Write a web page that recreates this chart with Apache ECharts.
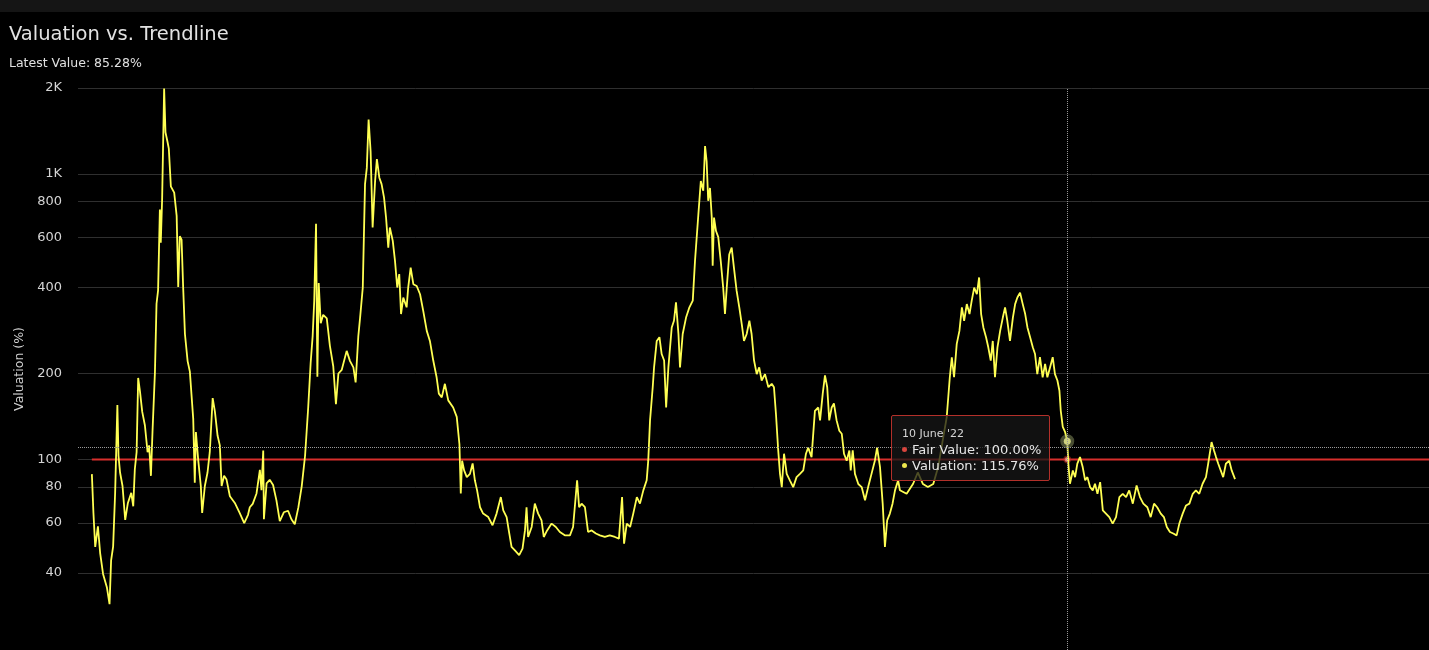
<!DOCTYPE html>
<html>
<head>
<meta charset="utf-8">
<script src="https://cdn.jsdelivr.net/npm/echarts@6/dist/echarts.min.js"></script>
<style>
html,body{margin:0;padding:0;background:#000;overflow:hidden;}
#chart{width:1429px;height:650px;}
</style>
</head>
<body>
<div id="chart"></div>
<script>
// ---------------- data ----------------
const chartTitle = 'Valuation vs. Trendline';
const yAxisName = 'Valuation (%)';
const yTickValues = [40, 60, 80, 100, 200, 400, 600, 800, 1000, 2000];
const yTickLabels = ['40', '60', '80', '100', '200', '400', '600', '800', '1K', '2K'];
const yRange = [21.5, 2000];
const xRange = ['2010-05-02', '2026-11-13'];

const valuationDates = [
'2010-07-03','2010-07-10','2010-07-18','2010-07-30','2010-08-09','2010-08-22','2010-09-08','2010-09-20','2010-09-27','2010-10-06',
'2010-10-15','2010-10-25','2010-10-30','2010-11-06','2010-11-17','2010-11-29','2010-12-11','2010-12-26',
'2011-01-04','2011-01-11','2011-01-19','2011-01-26','2011-02-03','2011-02-13','2011-02-25','2011-03-09','2011-03-16','2011-03-24',
'2011-03-31','2011-04-11','2011-04-18','2011-04-25','2011-05-03','2011-05-07','2011-05-13','2011-05-22','2011-05-28','2011-06-06',
'2011-06-12','2011-06-21','2011-07-06','2011-07-17','2011-07-24','2011-07-31','2011-08-08','2011-08-15','2011-08-23','2011-09-04',
'2011-09-14','2011-09-29','2011-10-06','2011-10-11','2011-10-21','2011-11-02','2011-11-08','2011-11-20','2011-12-02','2011-12-12','2011-12-25',
'2012-01-04','2012-01-16','2012-01-26','2012-02-03','2012-02-14','2012-02-25','2012-03-11','2012-04-02','2012-04-24','2012-05-14',
'2012-05-31','2012-06-08','2012-06-21','2012-07-08','2012-07-23','2012-07-30','2012-08-07','2012-08-10','2012-08-22','2012-09-05',
'2012-09-20','2012-10-05','2012-10-20','2012-11-07','2012-11-26','2012-12-11','2012-12-26',
'2013-01-11','2013-01-26','2013-02-10','2013-02-24','2013-03-07','2013-03-16','2013-03-23','2013-03-31','2013-04-06','2013-04-12',
'2013-04-21','2013-05-02','2013-05-18','2013-06-01','2013-06-16','2013-06-28','2013-07-09','2013-07-24','2013-08-15','2013-08-30',
'2013-09-14','2013-09-24','2013-10-06','2013-10-14','2013-10-26','2013-11-05','2013-11-13','2013-11-21','2013-11-30','2013-12-09',
'2013-12-20','2013-12-28',
'2014-01-08','2014-01-18','2014-01-29','2014-02-07','2014-02-17','2014-02-24','2014-03-09','2014-03-19','2014-03-29','2014-04-07',
'2014-04-15','2014-04-25','2014-05-10','2014-05-17','2014-05-28','2014-06-09','2014-06-24','2014-07-09','2014-07-23','2014-08-08',
'2014-08-22','2014-09-06','2014-09-21','2014-10-01','2014-10-14','2014-10-28','2014-11-12','2014-12-04','2014-12-20',
'2015-01-01','2015-01-07','2015-01-13','2015-01-22','2015-02-03','2015-02-17','2015-03-01','2015-03-11','2015-03-21','2015-04-03',
'2015-04-17','2015-05-10','2015-05-29','2015-06-16','2015-07-05','2015-07-16','2015-07-31','2015-08-12','2015-08-22','2015-09-06',
'2015-09-25','2015-10-10','2015-10-21','2015-10-28','2015-11-04','2015-11-20','2015-12-04','2015-12-19',
'2016-01-03','2016-01-13','2016-01-28','2016-02-17','2016-03-07','2016-03-25','2016-04-16','2016-05-09','2016-05-23','2016-06-10',
'2016-06-19','2016-06-30','2016-07-15','2016-07-29','2016-08-14','2016-09-02','2016-09-20','2016-10-12','2016-11-03','2016-11-26',
'2016-12-14','2016-12-28',
'2017-01-06','2017-01-18','2017-02-02','2017-02-16','2017-03-04','2017-03-18','2017-04-02','2017-04-17','2017-04-24','2017-05-02',
'2017-05-14','2017-05-20','2017-06-01','2017-06-13','2017-06-23','2017-07-04','2017-07-13','2017-07-23','2017-08-07','2017-08-17',
'2017-08-26','2017-09-06','2017-09-13','2017-09-25','2017-10-10','2017-10-25','2017-11-09','2017-11-19','2017-12-04','2017-12-15','2017-12-26',
'2018-01-03','2018-01-10','2018-01-17','2018-01-25','2018-02-02','2018-02-06','2018-02-12','2018-02-21','2018-03-03','2018-03-14',
'2018-03-25','2018-04-02','2018-04-10','2018-04-21','2018-05-02','2018-05-12','2018-05-24','2018-06-05','2018-06-16','2018-06-26',
'2018-07-08','2018-07-20','2018-07-30','2018-08-10','2018-08-22','2018-09-02','2018-09-13','2018-09-28','2018-10-13','2018-10-28',
'2018-11-07','2018-11-16','2018-11-26','2018-12-04','2018-12-12','2018-12-22',
'2019-01-03','2019-01-17','2019-02-01','2019-02-16','2019-03-03','2019-03-18','2019-03-30','2019-04-09','2019-04-24','2019-05-09',
'2019-05-24','2019-06-01','2019-06-13','2019-06-23','2019-07-03','2019-07-12','2019-07-23','2019-08-02','2019-08-14','2019-08-26',
'2019-09-06','2019-09-16','2019-09-28','2019-10-10','2019-10-16','2019-10-25','2019-11-04','2019-11-19','2019-12-04','2019-12-19',
'2020-01-02','2020-01-17','2020-02-01','2020-02-11','2020-02-24','2020-03-07','2020-03-17','2020-03-27','2020-04-08','2020-04-20',
'2020-05-01','2020-05-15','2020-05-23','2020-06-22','2020-07-21','2020-08-11','2020-09-03','2020-09-25','2020-10-19','2020-11-10',
'2020-12-03','2020-12-18',
'2021-01-01','2021-01-10','2021-01-20','2021-02-01','2021-02-13','2021-02-24','2021-03-06','2021-03-18','2021-03-30','2021-04-09',
'2021-04-20','2021-05-02','2021-05-12','2021-05-21','2021-05-31','2021-06-12','2021-06-22','2021-07-03','2021-07-12','2021-07-22',
'2021-08-02','2021-08-14','2021-08-26','2021-09-05','2021-09-15','2021-09-27','2021-10-10','2021-10-20','2021-10-30','2021-11-11',
'2021-11-23','2021-12-04','2021-12-14','2021-12-26',
'2022-01-07','2022-01-17','2022-01-27','2022-02-08','2022-02-20','2022-03-03','2022-03-13','2022-03-25','2022-04-06','2022-04-16',
'2022-04-27','2022-05-06','2022-05-12','2022-05-21','2022-05-31','2022-06-10','2022-06-15','2022-06-22','2022-07-05','2022-07-15',
'2022-07-25','2022-08-06','2022-08-18','2022-08-29','2022-09-08','2022-09-20','2022-10-02','2022-10-12','2022-10-23','2022-11-04',
'2022-11-16','2022-11-30','2022-12-15','2022-12-30',
'2023-01-14','2023-01-29','2023-02-13','2023-02-28','2023-03-14','2023-03-30','2023-04-16','2023-05-01','2023-05-16','2023-06-03',
'2023-06-18','2023-07-03','2023-07-17','2023-08-02','2023-08-16','2023-08-29','2023-09-12','2023-09-27','2023-10-12','2023-10-24',
'2023-11-08','2023-11-23','2023-12-08','2023-12-23',
'2024-01-06','2024-01-21','2024-02-05','2024-02-20','2024-03-01','2024-03-16','2024-03-27','2024-04-05','2024-04-15','2024-04-26',
'2024-05-07','2024-05-19','2024-06-03','2024-06-14','2024-06-29'
];

const valuationValues = [
88.8,64.9,49.4,58.3,47.0,39.7,35.7,31.1,44.3,49.5,
76.4,155,103,90,80.7,61.4,70.4,76.4,
68.5,92.4,106,193,173,147,131.7,106,112,87.6,
124.7,203,351,391,750,574,814,1990,1400,1296,
1226,905,860,713,402,605,588,402,275,221,
203,139,82.9,124.7,100.3,80.7,64.9,80.7,90,106,164,
147,121,112,80.7,87.6,85,74.3,70.4,64.9,59.8,
64,68,69.9,76,92,78,107.5,61.7,82.4,84.8,
81.4,71.9,60.8,65.3,66.1,61.7,59.3,
67.9,80.5,103,152,218,271,360,669,195,415,
300,321,312,250,212,156,200,206,240,221,
210,186,270,314,400,921,1050,1551,1200,649,
944,1127,
970,921,826,703,552,649,583,496,400,446,
323,369,341,400,470,411,405,379,332,282,
260,222,194,170,165,184,161,152,141,
113,76,99,91.5,86.7,89,96.8,84.5,77.9,68,
64.6,62.8,58.8,64.6,73.8,66.3,62.8,55,49.4,48,
46.2,48.7,56.4,68,53.5,58,70,64.6,
61.2,53.5,56.4,59.6,58,55.7,54.2,54.2,58,84.5,
68,70,68,55.7,56.4,55,54.2,53.5,54.2,53.5,
52.8,73.8,
50.7,59.6,58,64.6,73.8,70,77.9,84.5,99,137,
179,210,260,268,234,222,152,210,290,306,
355,275,210,275,314,341,360,496,721,944,873,
1253,1107,805,893,703,477,703,631,601,496,
400,323,400,522,552,470,390,341,298,260,
275,306,275,222,199,210,189,199,179,184,
179,144,107.5,89,80,104.7,
89,84.5,80,86.7,89,91.5,104.7,110,101.9,148,
152,137,170,197,179,137,152,157,137,126,
123,104.7,99,107.5,91.5,107.5,89,82,80,71.9,
80,89,99,110,94,70,49.4,61.2,64.6,70,
77.9,84.5,78,75.8,82.2,90,82,80,82,94,
120,140,
194,228,194,254,282,341,306,350,323,360,
400,379,434,323,290,268,247,222,260,194,
247,282,314,341,306,260,314,350,369,384,
350,323,290,268,
247,234,199,228,194,216,194,210,228,199,
189,174,148,130,125,115.76,96.6,82.2,91.5,86.7,
96.6,101.9,94,84.5,86.7,80,77.9,82.2,75.8,83.3,
66.3,64.6,62.8,59.6,
62.8,73.8,75.8,73.8,77.9,70,81.1,73.8,70,68,
62.8,70,68,64.6,62.8,58,55.7,55,54.2,59.6,
64.6,69,70,75.8,
77.9,75.8,82.2,86.7,96.6,115,107.5,101.9,96.6,91.5,
86.7,96.6,99,91.5,85.28
];

const fairValueDates = ['2010-07-03', '2022-06-10', '2026-11-13'];
const fairValueValues = [100, 100, 100];

// the point the reference shows hovered
const hoverDate = '2022-06-10';
const hoverLevel = 110;

const monthNames = ['January','February','March','April','May','June','July','August','September','October','November','December'];

// ---------------- chart ----------------
const FONT = 'DejaVu Sans';
const chart = echarts.init(document.getElementById('chart'), null, {renderer: 'canvas'});
const latest = valuationValues[valuationValues.length - 1];

function localTs(s) {
  const p = s.split('-').map(Number);
  return new Date(p[0], p[1] - 1, p[2]).getTime();
}

const option = {
  backgroundColor: '#000',
  animation: false,
  graphic: [{
    type: 'rect', left: 0, top: 0, z: -1,
    shape: {width: 1429, height: 12},
    style: {fill: '#151515'}
  }],
  title: {
    text: chartTitle,
    subtext: 'Latest Value: ' + latest.toFixed(2) + '%',
    left: 9, top: 25, padding: 0, itemGap: 12,
    textStyle: {color: '#e2e2e2', fontSize: 19.5, fontWeight: 'normal', fontFamily: FONT},
    subtextStyle: {color: '#e0e0e0', fontSize: 12.5, fontFamily: FONT}
  },
  grid: {left: 78, right: 0, top: 88, bottom: 0, containLabel: false},
  tooltip: {
    trigger: 'axis',
    triggerOn: 'none',
    alwaysShowContent: true,
    transitionDuration: 0,
    axisPointer: {
      type: 'cross',
      animation: false,
      crossStyle: {color: '#9a9a9a', type: 'dotted', width: 1},
      lineStyle: {color: '#9a9a9a', type: 'dotted', width: 1},
      label: {show: false}
    },
    backgroundColor: 'rgba(22,22,22,0.76)',
    borderColor: '#b3302a',
    borderWidth: 1,
    padding: [10, 8, 6, 10],
    textStyle: {color: '#e6e6e6', fontSize: 13, fontFamily: FONT},
    extraCssText: 'box-shadow:none;border-radius:2px;line-height:16px;',
    position: function (point, params, dom, rect, size) {
      return [point[0] - size.contentSize[0] - 17, point[1] - 33];
    },
    formatter: function (params) {
      const d = new Date(params[0].axisValue);
      const head = d.getDate() + ' ' + monthNames[d.getMonth()] + " '" + String(d.getFullYear()).slice(2);
      let html = '<div style="font-size:11px;color:#d6d6d6;line-height:16px">' + head + '</div>';
      const seen = {};
      params.forEach(function (p) {
        if (seen[p.seriesName]) return;
        seen[p.seriesName] = true;
        const c = p.seriesName === 'Fair Value' ? '#d9453e' : '#ece64e';
        html += '<div style="line-height:16px"><span style="display:inline-block;width:5px;height:5px;border-radius:3px;background:' + c +
          ';margin-right:5px;vertical-align:middle;position:relative;top:-1px"></span>' + p.seriesName + ': ' +
          Number(p.value[1]).toFixed(2) + '%</div>';
      });
      return html;
    }
  },
  xAxis: {
    type: 'time',
    min: xRange[0],
    max: xRange[1],
    axisLine: {show: false},
    axisTick: {show: false},
    axisLabel: {show: false},
    splitLine: {show: false},
    axisPointer: {snap: true}
  },
  yAxis: {
    type: 'log',
    logBase: 10,
    min: yRange[0],
    max: yRange[1],
    name: yAxisName,
    nameLocation: 'middle',
    nameRotate: 90,
    nameGap: 52,
    nameTextStyle: {color: '#d0d0d0', fontSize: 12.5, fontFamily: FONT},
    axisLine: {show: false},
    axisTick: {show: false, customValues: yTickValues},
    axisLabel: {
      customValues: yTickValues,
      color: '#d4d4d4', fontSize: 13, fontFamily: FONT, margin: 16,
      formatter: function (v) {
        const i = yTickValues.findIndex(function (t) { return Math.abs(t - v) / t < 1e-6; });
        return i >= 0 ? yTickLabels[i] : '';
      }
    },
    splitLine: {show: true, lineStyle: {color: '#2f2f2f', width: 1}},
    axisPointer: {snap: false, triggerTooltip: false}
  },
  series: [
    {
      name: 'Fair Value',
      type: 'line',
      data: fairValueDates.map(function (d, i) { return [d, fairValueValues[i]]; }),
      showSymbol: false,
      symbol: 'circle',
      symbolSize: 5,
      itemStyle: {color: '#f2bdb5'},
      lineStyle: {color: '#c42b28', width: 2},
      emphasis: {scale: false, lineStyle: {width: 2}, itemStyle: {color: '#f2bdb5', borderColor: 'rgba(200,50,40,0.5)', borderWidth: 3}},
      z: 2
    },
    {
      name: 'Valuation',
      type: 'line',
      data: valuationDates.map(function (d, i) { return [d, valuationValues[i]]; }),
      showSymbol: false,
      symbol: 'circle',
      symbolSize: 7,
      itemStyle: {color: '#f4f08c'},
      lineStyle: {color: '#f0ea4c', width: 1.8},
      emphasis: {scale: false, lineStyle: {width: 1.8}, itemStyle: {color: '#f4f08c', borderColor: 'rgba(160,170,110,0.45)', borderWidth: 7}},
      z: 3
    }
  ]
};

chart.setOption(option);

function showHover() {
  const p = chart.convertToPixel({gridIndex: 0}, [localTs(hoverDate), hoverLevel]);
  chart.dispatchAction({type: 'showTip', x: p[0], y: p[1]});
}
showHover();
setTimeout(showHover, 50);
</script>
</body>
</html>
